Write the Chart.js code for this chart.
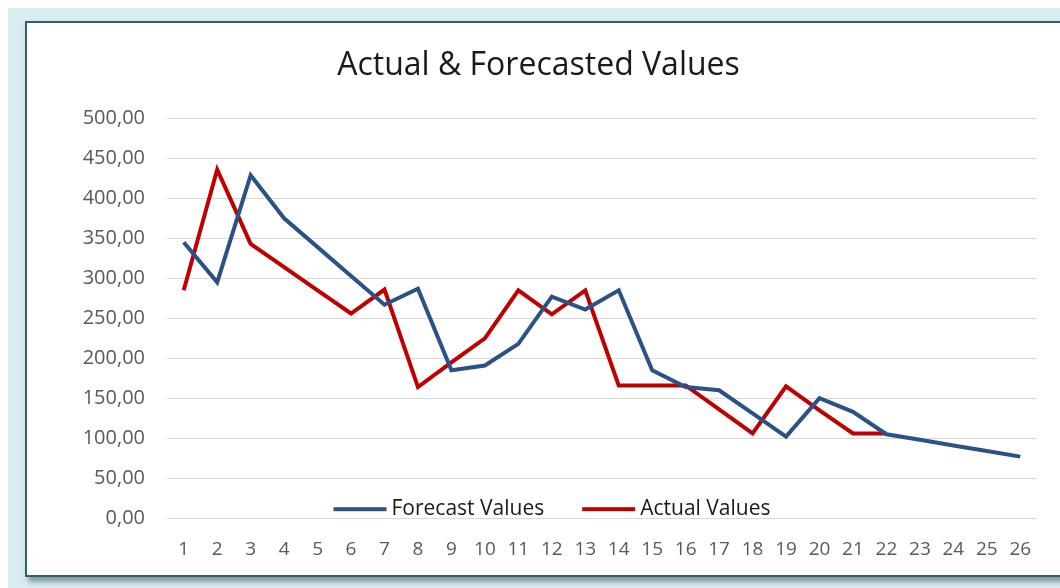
<!DOCTYPE html>
<html>
<head>
<meta charset="utf-8">
<title>Actual & Forecasted Values</title>
<script src="https://cdn.jsdelivr.net/npm/chart.js@4.4.1/dist/chart.umd.min.js"></script>
<style>
  html, body { margin: 0; padding: 0; overflow: hidden; background: #ffffff; }
  .backdrop { position: absolute; left: 8px; top: 8px; width: 1100px; height: 620px; background: #daecf2; }
  .panel {
    position: absolute; left: 25px; top: 21px; width: 1100px; height: 552px;
    background: #ffffff; border: 2px solid #2e5f6c;
    box-shadow: 3px 5px 5px rgba(60, 90, 100, 0.55);
  }
  #chart { position: absolute; left: 0; top: 0; }
</style>
</head>
<body>
<div class="backdrop"></div>
<div class="panel"></div>
<canvas id="chart" width="1060" height="588"></canvas>
<script>
// Chart data
const categories = ['1', '2', '3', '4', '5', '6', '7', '8', '9', '10', '11', '12', '13',
  '14', '15', '16', '17', '18', '19', '20', '21', '22', '23', '24', '25', '26'];
const forecastValues = [345, 295, 429, 375, 339, 303, 267, 287, 185, 191, 218, 277, 261,
  285, 185, 164, 160, 131, 102, 150, 133, 105, 98, 91, 84, 77];
const actualValues = [285, 436, 343, 314, 285, 256, 286, 164, 195, 225, 285, 255, 285,
  166, 166, 166, 136, 106, 165, 135, 106, 106, null, null, null, null];

const FONT = '"Open Sans", "DejaVu Sans", sans-serif';

// Legend drawn inside the plot, near the bottom (as in the Excel original)
const insideLegend = {
  id: 'insideLegend',
  afterDatasetsDraw(chart) {
    const ctx = chart.ctx;
    const area = chart.chartArea;
    const lineW = 53, gapText = 5, gapItem = 38;
    ctx.save();
    ctx.font = '21px ' + FONT;
    ctx.textBaseline = 'middle';
    const items = chart.data.datasets.map(ds => ({
      label: ds.label, color: ds.borderColor, w: ctx.measureText(ds.label).width
    }));
    let total = 0;
    items.forEach((it, i) => { total += lineW + gapText + it.w + (i ? gapItem : 0); });
    let x = 552 - total / 2;
    const y = area.bottom - 9;
    items.forEach(it => {
      ctx.fillStyle = it.color;
      ctx.fillRect(x, y - 2, lineW, 4);
      x += lineW + gapText;
      ctx.fillStyle = '#1a1a1a';
      ctx.fillText(it.label, x, y);
      x += it.w + gapItem;
    });
    ctx.restore();
  }
};

new Chart(document.getElementById('chart'), {
  type: 'line',
  data: {
    labels: categories,
    datasets: [
      {
        label: 'Forecast Values',
        data: forecastValues,
        borderColor: '#2a5286',
        backgroundColor: '#2a5286',
        borderWidth: 4,
        pointRadius: 0,
        tension: 0
      },
      {
        label: 'Actual Values',
        data: actualValues,
        borderColor: '#c00000',
        backgroundColor: '#c00000',
        borderWidth: 4,
        pointRadius: 0,
        tension: 0
      }
    ]
  },
  options: {
    responsive: false,
    animation: false,
    devicePixelRatio: 1,
    layout: {
      padding: { left: 40, right: 23, top: 14, bottom: 7 }
    },
    plugins: {
      legend: { display: false },
      tooltip: { enabled: false },
      title: {
        display: true,
        text: 'Actual & Forecasted Values',
        color: '#1a1a1a',
        font: { family: FONT, size: 32, weight: 'normal', lineHeight: 1.2 },
        padding: { top: 33, bottom: 33 }
      }
    },
    scales: {
      x: {
        offset: true,
        grid: { display: false, drawTicks: false },
        border: { display: false },
        ticks: {
          color: '#595959',
          padding: 20,
          maxRotation: 0,
          autoSkip: false,
          font: { family: FONT, size: 19 }
        }
      },
      y: {
        min: 0,
        max: 500,
        afterFit(scale) { scale.width = 127; },
        grid: { color: '#d9d9d9', lineWidth: 1, drawTicks: false },
        border: { display: false },
        ticks: {
          stepSize: 50,
          color: '#595959',
          padding: 22,
          font: { family: FONT, size: 20 },
          callback: value => value.toFixed(2).replace('.', ',')
        }
      }
    }
  },
  plugins: [insideLegend]
});
</script>
</body>
</html>
